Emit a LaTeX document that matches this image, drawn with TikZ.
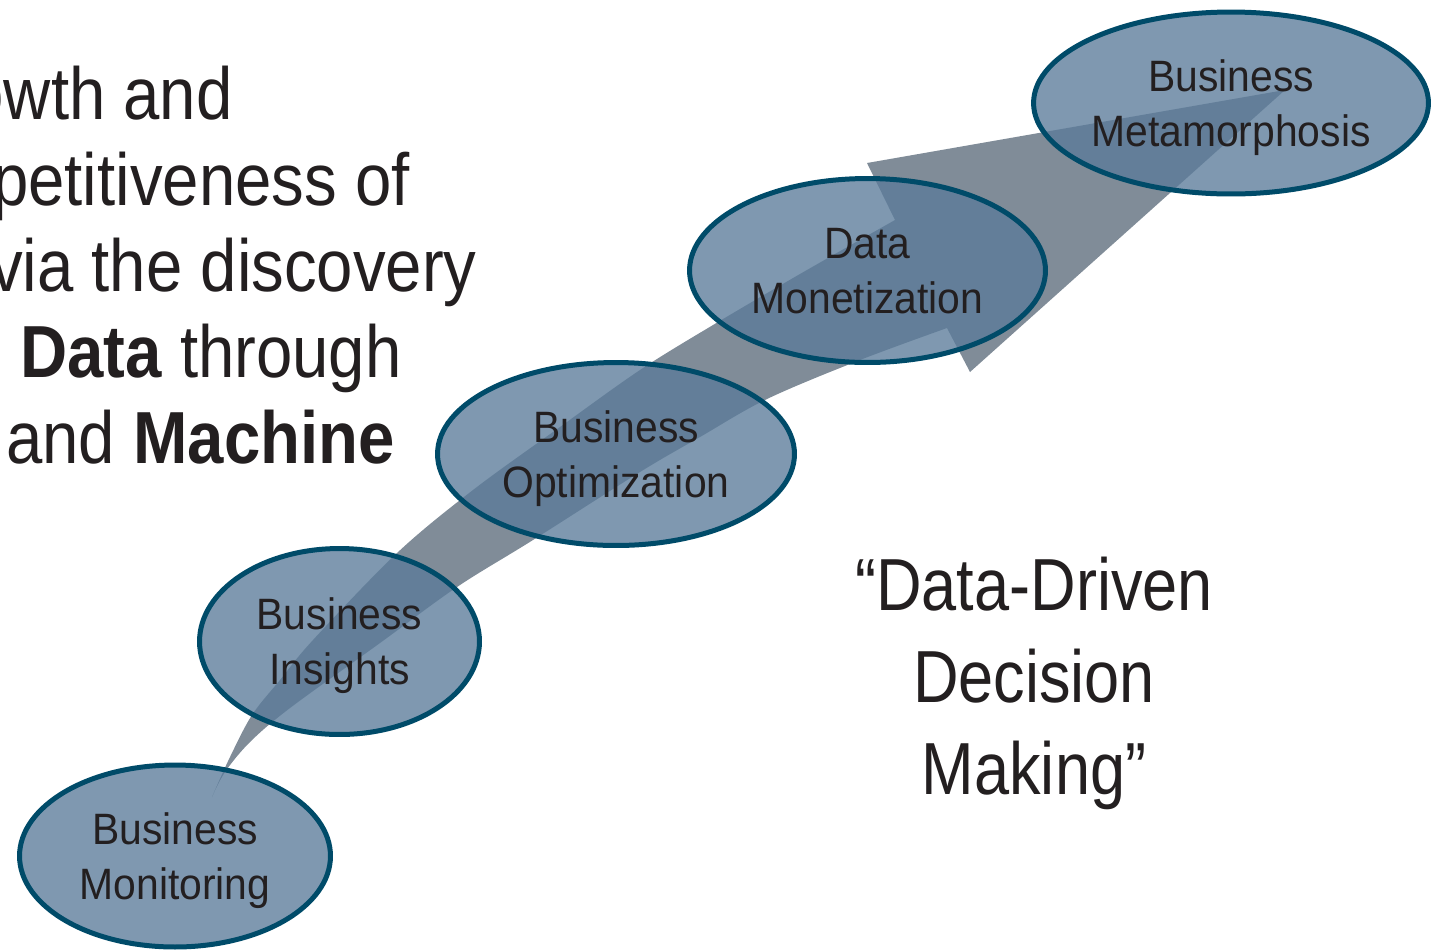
\documentclass[tikz,border=0pt]{standalone}
\usepackage{fontspec}
\setmainfont{Liberation Sans}
\newfontfamily\bubblefont{Liberation Sans}[FakeStretch=0.93]
\newfontfamily\blurbfont{Liberation Sans}[FakeStretch=0.885]
\newfontfamily\mottofont{Liberation Sans}[FakeStretch=0.855]
\usepackage{xcolor}
\usepackage{tikz}
\usetikzlibrary{shapes.geometric}
\definecolor{ink}{HTML}{231F20}
\definecolor{trail}{HTML}{808C98}
\definecolor{stagefill}{HTML}{5B7B9A}
\definecolor{stageline}{HTML}{004B69}
\tikzset{
  stage/.style ={ellipse,draw=stageline,line width=0.1cm,fill=stagefill,
                 fill opacity=0.78,text opacity=1,text=ink,inner sep=0pt,
                 align=center,text depth=0pt,
                 font=\bubblefont\fontsize{25}{31.3}\selectfont},
  blurb/.style ={text=ink,inner sep=0pt,
                 font=\blurbfont\fontsize{42}{52.4}\selectfont}
}

\begin{document}
\begin{tikzpicture}[x=0.02cm,y=-0.02cm]
    \useasboundingbox (0,0) rectangle (1439,951);
    \clip (0,0) rectangle (1439,951);
    % growth arrow, drawn first so the stages sit on top of it
    \coordinate (tail) at (212,797);
    \coordinate (tip) at (1285,90);
    \fill[trail] plot[smooth,tension=0.55] coordinates {(tail) (230,757) (252,715)
        (280,680) (313,640) (397,553) (473,490) (560,427) (640,370) (713,325)
        (800,274) (895,220)}
      -- (867,163) -- (tip) -- (970,372) -- (947,328)
      -- plot[smooth,tension=0.55] coordinates {(947,328) (860,360) (767,399)
        (700,437) (640,472) (533,540) (457,587) (380,643) (290,708) (250,742)
        (225,772) (tail)} -- cycle;
    \node[stage,minimum width=6.22cm,minimum height=3.64cm] (mon) at (175,856) {Business\\Monitoring};
    \node[stage,minimum width=5.60cm,minimum height=3.72cm] (ins) at (339.5,641.5) {Business\\Insights};
    \node[stage,minimum width=7.14cm,minimum height=3.66cm] (opt) at (616,454) {Business\\Optimization};
    \node[stage,minimum width=7.12cm,minimum height=3.68cm] (monet) at (867.5,270.5) {Data\\Monetization};
    \node[stage,minimum width=7.88cm,minimum height=3.64cm] (meta) at (1231,103) {Business\\Metamorphosis};
    \node[blurb,anchor=base east] (l1) at (233,119) {owth and};
    \node[blurb,anchor=base east] (l2) at (410,205) {petitiveness of};
    \node[blurb,anchor=base east] (l3) at (477,291) {via the discovery};
    \node[blurb,anchor=base east] (l4) at (402,377) {\textbf{Data} through};
    \node[blurb,anchor=base east] (l5) at (395,463) {and \textbf{Machine}};
    \node[blurb,font=\mottofont\fontsize{42}{52.4}\selectfont,align=center,text depth=0pt]
      (motto) at (1034,676) {“Data-Driven\\Decision\\Making”};
\end{tikzpicture}
\end{document}
